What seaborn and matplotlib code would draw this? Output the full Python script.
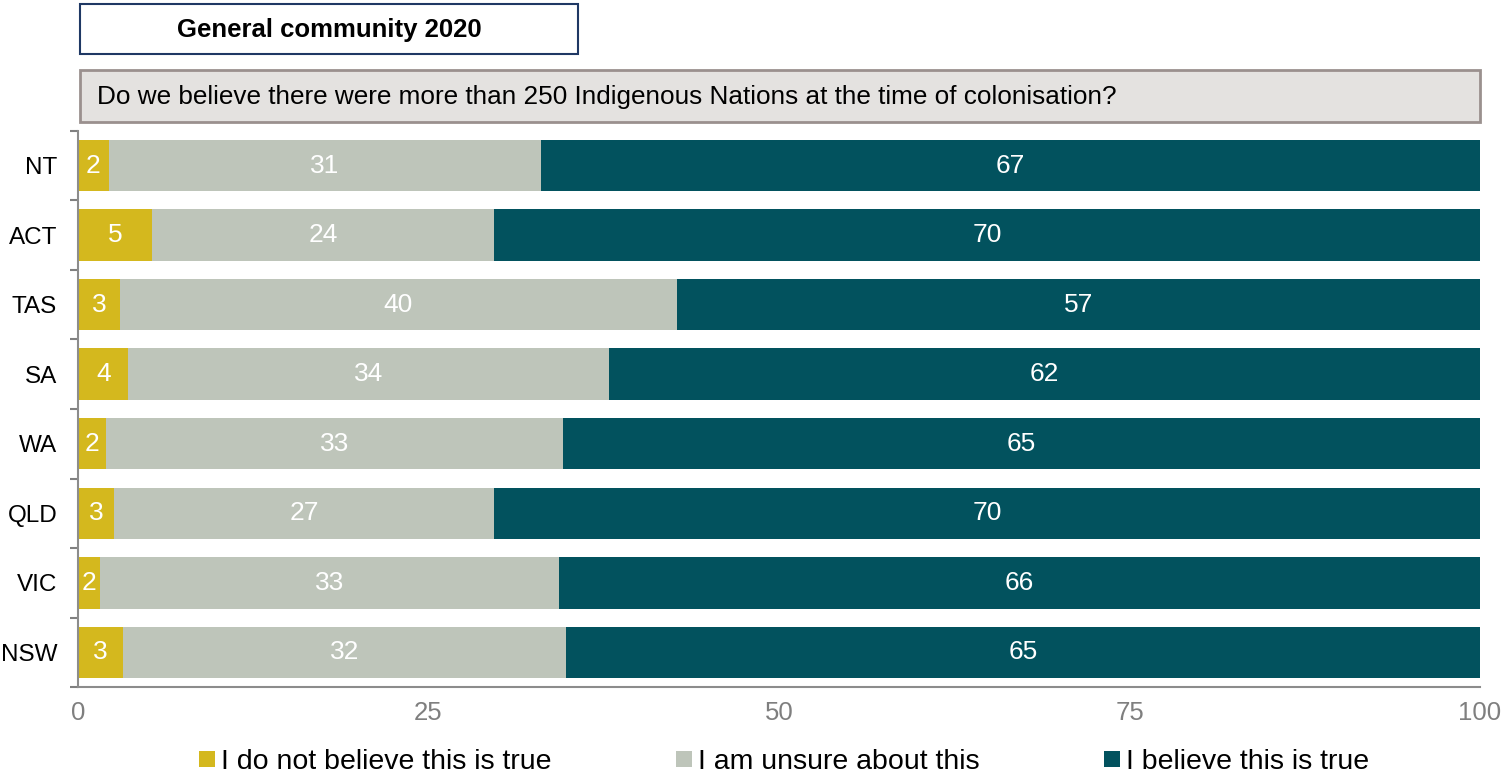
import matplotlib
matplotlib.use("Agg")
import matplotlib.pyplot as plt
from matplotlib.patches import Rectangle
from matplotlib.lines import Line2D
import seaborn as sns
import pandas as pd
import numpy as np

states = ["NT", "ACT", "TAS", "SA", "WA", "QLD", "VIC", "NSW"]
not_true = [2.2, 5.3, 3.0, 3.6, 2.0, 2.6, 1.6, 3.2]
unsure = [30.8, 24.4, 39.7, 34.3, 32.6, 27.1, 32.7, 31.6]
true = [67.0, 70.3, 57.3, 62.1, 65.4, 70.3, 65.7, 65.2]
series_names = ["I do not believe this is true", "I am unsure about this", "I believe this is true"]
colors = ["#D4B81E", "#BEC5BA", "#02525E"]
xticks = [0, 25, 50, 75, 100]
title = "General community 2020"
question = "Do we believe there were more than 250 Indigenous Nations at the time of colonisation?"

sns.set_theme(style="white")
plt.rcParams["font.family"] = ["Liberation Sans", "DejaVu Sans"]

df = pd.DataFrame({"state": states, "a": not_true, "b": unsure, "c": true})
df["cum_a"] = df["a"]
df["cum_b"] = df["a"] + df["b"]
df["cum_c"] = df["a"] + df["b"] + df["c"]

fig = plt.figure(figsize=(15.03, 7.79), dpi=100)
ax = fig.add_axes([0.0519, 0.118, 0.9328, 0.714])

for col, color in zip(["cum_c", "cum_b", "cum_a"], colors[::-1]):
    sns.barplot(data=df, x=col, y="state", order=states, color=color,
                width=0.74, ax=ax, orient="h", saturation=1, linewidth=0)

for i, row in df.iterrows():
    starts = [0, row["cum_a"], row["cum_b"]]
    vals = [row["a"], row["b"], row["c"]]
    for s, v in zip(starts, vals):
        ax.text(s + v / 2, i, f"{int(round(v))}", ha="center", va="center",
                color="white", fontsize=19)

ax.set_xlim(0, 100)
ax.set_ylim(len(states) - 0.5, -0.5)
ax.set_xlabel("")
ax.set_ylabel("")
ax.set_xticks(xticks)
ax.set_xticklabels([str(t) for t in xticks], fontsize=18.5, color="#7F7F7F")
ax.set_yticks(range(len(states)))
ax.set_yticklabels(states, fontsize=17.5, color="black")
ax.tick_params(axis="y", which="major", length=0, pad=15)
ax.tick_params(axis="x", which="major", length=0, pad=10)
ax.set_yticks(np.arange(-0.5, len(states), 1), minor=True)
ax.tick_params(axis="y", which="minor", left=True, length=6, color="#808080",
               width=1.5, direction="out")
ax.set_xticks(xticks, minor=True)
ax.tick_params(axis="x", which="minor", bottom=True, length=6, color="#808080",
               width=1.5, direction="out")
for sp in ["top", "right"]:
    ax.spines[sp].set_visible(False)
for sp in ["left", "bottom"]:
    ax.spines[sp].set_color("#8C8C8C")
    ax.spines[sp].set_linewidth(1.5)

fig.patches.append(Rectangle((80 / 1503, 1 - 54 / 779), 498 / 1503, 50 / 779,
                             transform=fig.transFigure, facecolor="white",
                             edgecolor="#1F3864", linewidth=1.5))
fig.text(329 / 1503, 1 - 30 / 779, title, ha="center", va="center",
         fontsize=18.5, fontweight="bold", color="black")
fig.patches.append(Rectangle((80 / 1503, 1 - 122 / 779), 1400 / 1503, 52 / 779,
                             transform=fig.transFigure, facecolor="#E4E2E0",
                             edgecolor="#9A908E", linewidth=2))
fig.text(97 / 1503, 1 - 97 / 779, question, ha="left", va="center",
         fontsize=18.8, color="black")

handles = [Line2D([], [], marker="s", linestyle="none", markersize=11,
                  markerfacecolor=c, markeredgewidth=0) for c in colors]
fig.legend(handles, series_names, loc="center", bbox_to_anchor=(0.522, 1 - 762 / 779),
           ncol=3, frameon=False, fontsize=20.5, handlelength=0.5, handletextpad=0.25,
           columnspacing=4.4, borderaxespad=0, labelcolor="black")

fig.savefig("out.png", dpi=100)
